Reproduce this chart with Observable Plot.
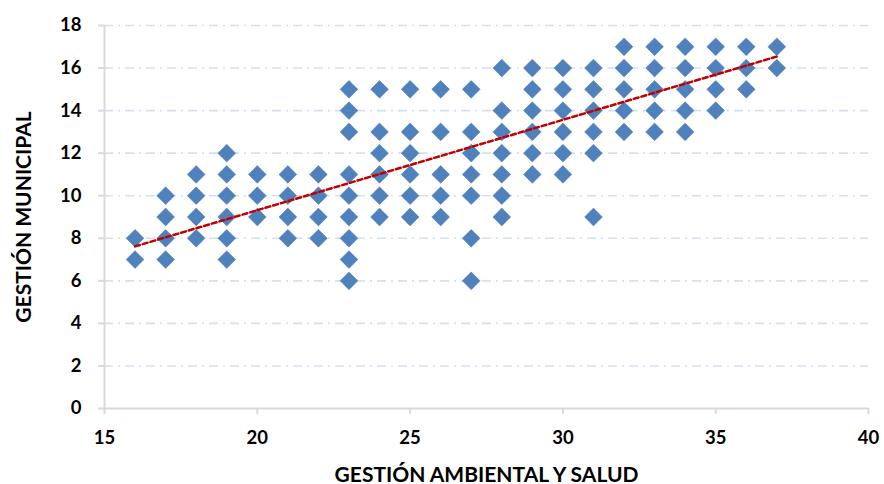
<!DOCTYPE html>
<html>
<head>
<meta charset="utf-8">
<script src="https://cdn.jsdelivr.net/npm/d3@7"></script>
<script src="https://cdn.jsdelivr.net/npm/@observablehq/plot@0.6"></script>
<style>
  html, body { margin: 0; padding: 0; background: #fff; }
  svg { display: block; }
</style>
</head>
<body>
<div id="chart"></div>
<script>
// GESTIÓN AMBIENTAL Y SALUD (x) for each observation
const ambiental = [
  16,16,
  17,17,17,17,
  18,18,18,18,
  19,19,19,19,19,19,
  20,20,20,
  21,21,21,21,
  22,22,22,22,
  23,23,23,23,23,23,23,23,23,
  24,24,24,24,24,24,
  25,25,25,25,25,25,
  26,26,26,26,26,
  27,27,27,27,27,27,27,
  28,28,28,28,28,28,28,
  29,29,29,29,29,29,
  30,30,30,30,30,30,
  31,31,31,31,31,31,
  32,32,32,32,32,
  33,33,33,33,33,
  34,34,34,34,34,
  35,35,35,35,
  36,36,36,
  37,37
];
// GESTIÓN MUNICIPAL (y) for each observation
const municipal = [
  7,8,
  7,8,9,10,
  8,9,10,11,
  7,8,9,10,11,12,
  9,10,11,
  8,9,10,11,
  8,9,10,11,
  6,7,8,9,10,11,13,14,15,
  9,10,11,12,13,15,
  9,10,11,12,13,15,
  9,10,11,13,15,
  6,8,10,11,12,13,15,
  9,10,11,12,13,14,16,
  11,12,13,14,15,16,
  11,12,13,14,15,16,
  9,12,13,14,15,16,
  13,14,15,16,17,
  13,14,15,16,17,
  13,14,15,16,17,
  14,15,16,17,
  15,16,17,
  16,17
];
// Linear trend line
const trendX = [16, 37];
const trendY = [7.62, 16.54];

const xTicks = [15, 20, 25, 30, 35, 40];
const yTicks = [0, 2, 4, 6, 8, 10, 12, 14, 16, 18];
const gridTicks = [2, 4, 6, 8, 10, 12, 14, 16, 18];

const data = ambiental.map((x, i) => ({x, y: municipal[i]}));
const trend = trendX.map((x, i) => ({x, y: trendY[i]}));

const chart = Plot.plot({
  width: 884,
  height: 484,
  marginLeft: 104,
  marginRight: 16,
  marginTop: 25,
  marginBottom: 76,
  style: {fontFamily: "Lato, 'Open Sans', sans-serif", fontSize: "18.5px", fontWeight: "bold", color: "#000"},
  x: {domain: [15, 40]},
  y: {domain: [0, 18]},
  marks: [
    Plot.gridY(gridTicks, {stroke: "#d6e0f0", strokeOpacity: 1, strokeWidth: 1.6, strokeDasharray: "9,5,2,5"}),
    Plot.ruleY([0], {stroke: "#d9d9d9", strokeWidth: 2}),
    Plot.ruleX([15], {stroke: "#d9d9d9", strokeWidth: 2}),
    Plot.axisX(xTicks, {tickSize: 6, tickPadding: 16, stroke: "#d9d9d9", strokeWidth: 2, fill: "#000", tickFormat: d => d, label: null}),
    Plot.axisY(yTicks, {tickSize: 6, tickPadding: 17, stroke: "#d9d9d9", strokeWidth: 2, fill: "#000", tickFormat: d => d, label: null}),
    Plot.axisX({ticks: [], tickSize: 0, fill: "#000", fontSize: 21,
      label: "GESTIÓN AMBIENTAL Y SALUD", labelAnchor: "center", labelOffset: 73, labelArrow: "none"}),
    Plot.axisY({ticks: [], tickSize: 0, fill: "#000", fontSize: 21,
      label: "GESTIÓN MUNICIPAL", labelAnchor: "center", labelOffset: 88, labelArrow: "none"}),
    Plot.dot(data, {x: "x", y: "y", symbol: "diamond2", r: 8, fill: "#4f81bd", stroke: "#4a7ab5", strokeWidth: 0.5}),
    Plot.line(trend, {x: "x", y: "y", stroke: "#c00000", strokeWidth: 2.5, strokeDasharray: "5,3"})
  ]
});
document.getElementById("chart").appendChild(chart);
</script>
</body>
</html>
